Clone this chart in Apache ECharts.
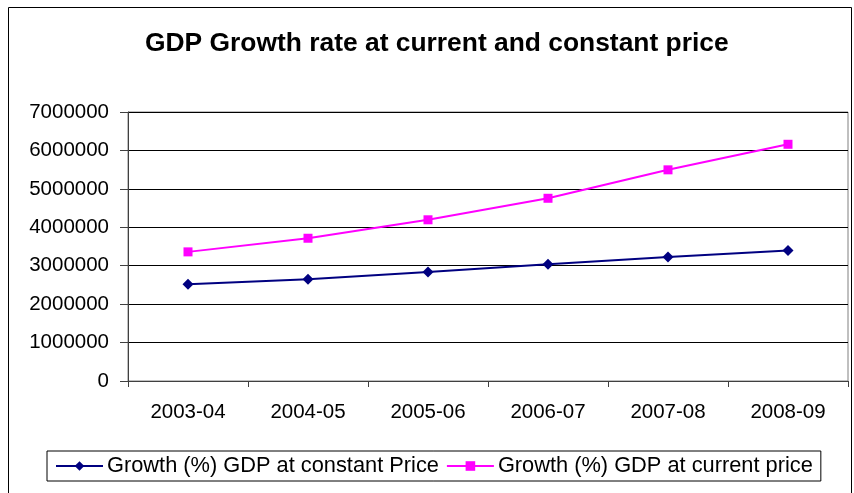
<!DOCTYPE html>
<html>
<head>
<meta charset="utf-8">
<script src="https://cdn.jsdelivr.net/npm/echarts@6/dist/echarts.min.js"></script>
<style>
  html, body { margin: 0; padding: 0; background: #fff; }
  #chart { width: 854px; height: 493px; }
</style>
</head>
<body>
<div id="chart"></div>
<script>
// Fiscal years on the category axis
const years = ['2003-04', '2004-05', '2005-06', '2006-07', '2007-08', '2008-09'];

// GDP series
const gdpConstant = [2520000, 2650000, 2835000, 3040000, 3225000, 3395000];
const gdpCurrent  = [3360000, 3715000, 4195000, 4755000, 5495000, 6160000];

const seriesNames = [
  'Growth (%) GDP at constant Price',
  'Growth (%) GDP at current price'
];

const chartTitle = 'GDP Growth rate at current and constant price';

// Value axis range
const yMin = 0;
const yMax = 7000000;
const yStep = 1000000;

const font = 'Arial, "Liberation Sans", sans-serif';

const chart = echarts.init(document.getElementById('chart'), null, { renderer: 'canvas' });

chart.setOption({
  backgroundColor: '#fff',
  animation: false,
  textStyle: { fontFamily: font },
  graphic: [{
    type: 'rect',
    shape: { x: 8.5, y: 7.5, width: 843, height: 500 },
    style: { fill: 'none', stroke: '#000', lineWidth: 1 },
    silent: true,
    z: -10
  }],
  title: {
    text: chartTitle,
    left: 145,
    top: 31,
    padding: 0,
    textStyle: { fontFamily: font, fontSize: 26.4, fontWeight: 'bold', color: '#000' }
  },
  grid: {
    left: 128,
    right: 6,
    top: 112,
    bottom: 112,
    show: true,
    borderColor: '#808080',
    borderWidth: 1,
    containLabel: false
  },
  legend: {
    left: 47,
    top: 451,
    padding: [4, 8, 4, 8],
    borderColor: '#000',
    borderWidth: 1,
    itemWidth: 47,
    itemHeight: 12,
    itemGap: 7,
    textStyle: { fontFamily: font, fontSize: 21.8, color: '#000', padding: [0, 0, 0, -1] },
    data: seriesNames
  },
  xAxis: {
    type: 'category',
    data: years,
    boundaryGap: true,
    axisLine: { lineStyle: { color: '#404040', width: 1 } },
    axisTick: { show: true, interval: 0, length: 6, lineStyle: { color: '#404040' } },
    axisLabel: { fontFamily: font, fontSize: 20.5, color: '#000', margin: 21, interval: 0 },
    splitLine: { show: false }
  },
  yAxis: {
    type: 'value',
    min: yMin,
    max: yMax,
    interval: yStep,
    axisLine: { show: true, lineStyle: { color: '#404040', width: 1 } },
    axisTick: { show: true, length: 8, lineStyle: { color: '#404040' } },
    axisLabel: {
      fontFamily: font, fontSize: 20.5, color: '#000', margin: 19,
      formatter: (v) => String(v)
    },
    splitLine: { show: true, lineStyle: { color: '#000', width: 1 } }
  },
  series: [
    {
      name: seriesNames[0],
      type: 'line',
      data: gdpConstant,
      symbol: 'diamond',
      symbolSize: 11,
      itemStyle: { color: '#000080' },
      lineStyle: { color: '#000080', width: 2 },
      z: 3
    },
    {
      name: seriesNames[1],
      type: 'line',
      data: gdpCurrent,
      symbol: 'rect',
      symbolSize: 9,
      itemStyle: { color: '#FF00FF' },
      lineStyle: { color: '#FF00FF', width: 2 },
      z: 3
    }
  ]
});
</script>
</body>
</html>
